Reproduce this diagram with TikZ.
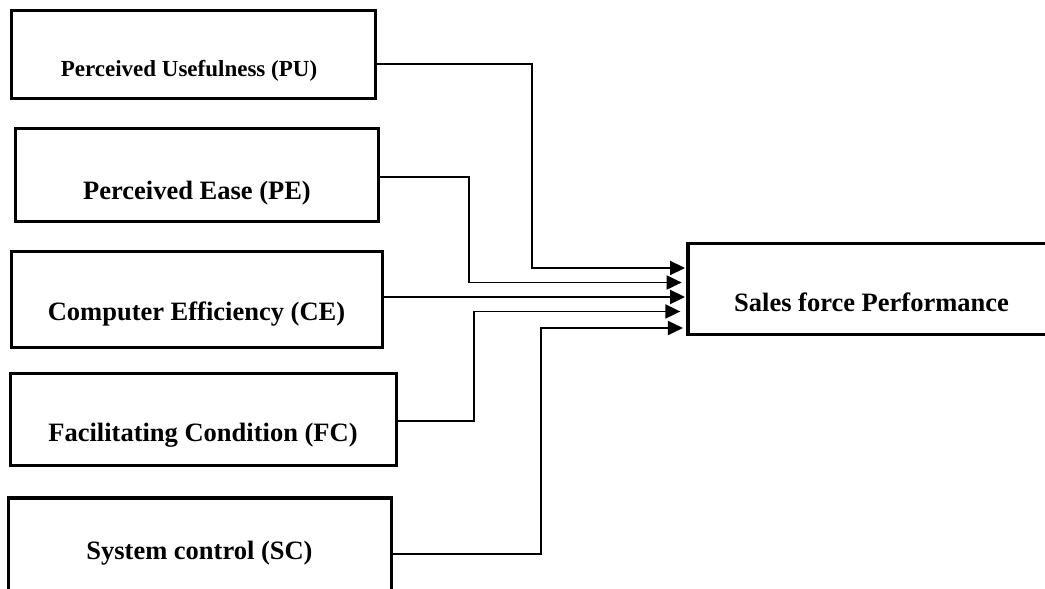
\documentclass[tikz,border=0pt]{standalone}
\usepackage{fontspec}
\setmainfont{Liberation Serif}
\usetikzlibrary{arrows.meta}
\begin{document}
\begin{tikzpicture}[x=1pt,y=-1pt,
  box/.style={draw, line width=3.3pt, rectangle, inner sep=0pt},
  lbl/.style={font=\fontsize{26.5}{30}\selectfont\bfseries, anchor=base, inner sep=0pt},
  conn/.style={line width=1.9pt, -{Triangle[length=15pt,width=14pt]}}]
\fill[white] (0,0) rectangle (1045,589);
\clip (0,0) rectangle (1045,589);
\useasboundingbox (0,0) rectangle (1045,589);
% boxes
\node[box, minimum width=364pt, minimum height=88pt] (pu) at (193.5,54.5) {};
\node[box, minimum width=363pt, minimum height=93pt] (pe) at (197,175) {};
\node[box, minimum width=371pt, minimum height=96pt] (ce) at (197,299.5) {};
\node[box, minimum width=386pt, minimum height=92pt] (fc) at (203.5,419.5) {};
\node[box, minimum width=383pt, minimum height=142pt] (sc) at (200,569) {};
\node[box, minimum width=392pt, minimum height=91pt] (sf) at (884,289) {};
% labels
\node[lbl, font=\fontsize{23}{27}\selectfont\bfseries] (put) at (189,76) {Perceived Usefulness (PU)};
\node[lbl] (pet) at (197,199) {Perceived Ease (PE)};
\node[lbl] (cet) at (196.5,320) {Computer Efficiency (CE)};
\node[lbl] (fct) at (203,441.7) {Facilitating Condition (FC)};
\node[lbl] (sct) at (199.5,559) {System control (SC)};
\node[lbl] (sft) at (871.5,311.7) {Sales force Performance};
% connectors
\draw[conn, shorten >=1.3pt] (pu.east |- 0,64) -| (532,268) -- (sf.west |- 0,268);
\draw[conn, shorten >=4.7pt] (pe.east |- 0,177) -| (469,282.5) -- (sf.west |- 0,282.5);
\draw[conn, shorten >=1.3pt] (ce.east |- 0,297) -- (sf.west |- 0,297);
\draw[conn, shorten >=6pt] (fc.east |- 0,421) -| (474,311.5) -- (sf.west |- 0,311.5);
\draw[conn, shorten >=3.4pt] (sc.east |- 0,554) -| (541,328) -- (sf.west |- 0,328);
\end{tikzpicture}
\end{document}
